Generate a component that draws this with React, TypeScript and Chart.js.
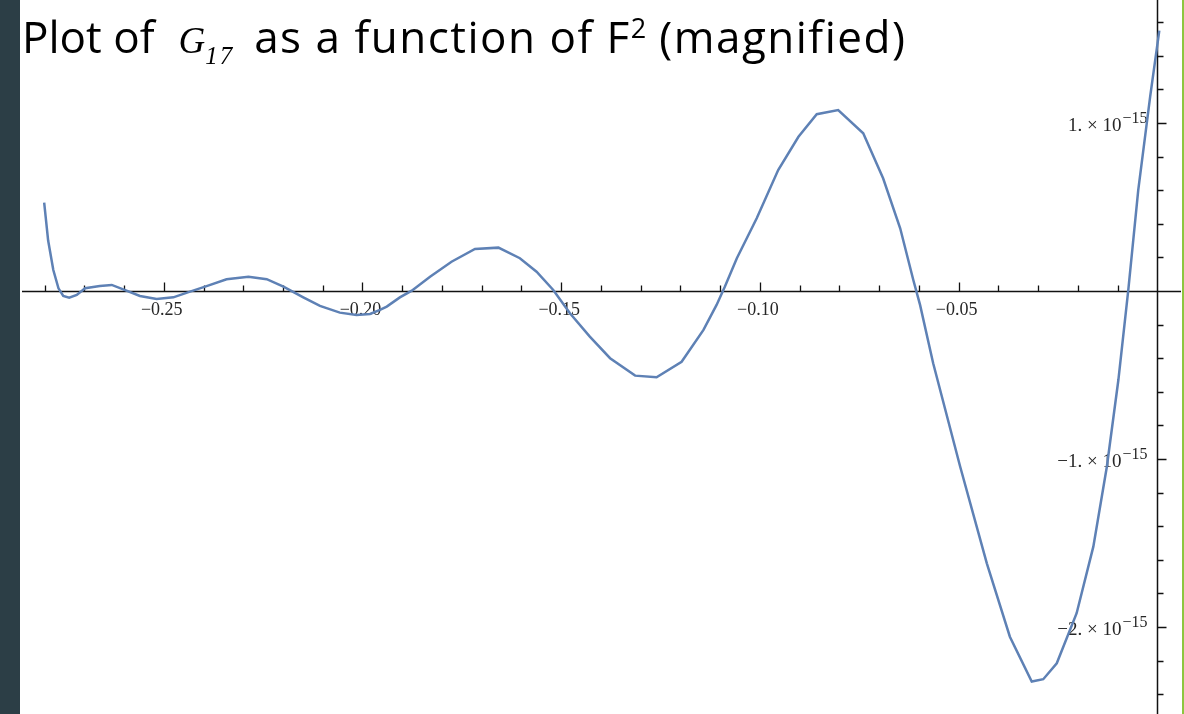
import React, { useEffect, useRef } from "react";
import { Chart, registerables } from "chart.js";

Chart.register(...registerables);

// Sampled curve: F² on the horizontal axis, G17 in units of 1e-15 on the vertical axis
const fSquared = [
  -0.2801, -0.2791, -0.2778, -0.2765, -0.2753, -0.2738, -0.2719, -0.2698, -0.2661, -0.2631,
  -0.2602, -0.256, -0.2518, -0.2476, -0.2434, -0.2396, -0.2342, -0.2287, -0.2241, -0.2199,
  -0.2149, -0.2107, -0.2057, -0.2015, -0.1981, -0.1956, -0.1939, -0.1906, -0.1876, -0.183,
  -0.1776, -0.1717, -0.1658, -0.1604, -0.1562, -0.152, -0.1478, -0.1428, -0.1377, -0.1314,
  -0.126, -0.1197, -0.1142, -0.1109, -0.1088, -0.1058, -0.1008, -0.0954, -0.0903, -0.0857,
  -0.0803, -0.074, -0.069, -0.0647, -0.0614, -0.0597, -0.0564, -0.0496, -0.0429, -0.0371,
  -0.0316, -0.0287, -0.0253, -0.0203, -0.0161, -0.0127, -0.0098, -0.0073, -0.0048, -0.0018,
  0.0005,
];

const g17 = [
  0.526, 0.3, 0.125, 0.016, -0.03, -0.04, -0.024, 0.016, 0.03, 0.036,
  0.01, -0.03, -0.048, -0.038, -0.004, 0.026, 0.07, 0.085, 0.07, 0.026,
  -0.038, -0.089, -0.129, -0.143, -0.137, -0.113, -0.093, -0.038, 0.002, 0.085,
  0.174, 0.25, 0.258, 0.195, 0.115, 0.006, -0.133, -0.272, -0.4, -0.504,
  -0.514, -0.421, -0.232, -0.083, 0.026, 0.195, 0.433, 0.72, 0.918, 1.052,
  1.077, 0.939, 0.671, 0.373, 0.065, -0.083, -0.43, -1.046, -1.621, -2.058,
  -2.325, -2.311, -2.216, -1.918, -1.522, -1.046, -0.53, 0.006, 0.6, 1.157,
  1.55,
];

// Axis ticks
const xMajorTicks = [-0.25, -0.2, -0.15, -0.1, -0.05];
const xMajorLabels = ["−0.25", "−0.20", "−0.15", "−0.10", "−0.05"];
const xMinorTicks = [
  -0.28, -0.27, -0.26, -0.24, -0.23, -0.22, -0.21, -0.19, -0.18, -0.17, -0.16,
  -0.14, -0.13, -0.12, -0.11, -0.09, -0.08, -0.07, -0.06, -0.04, -0.03, -0.02, -0.01,
];
const yMajorTicks = [1, -1, -2];
const yMantissaLabels = ["1. × 10", "−1. × 10", "−2. × 10"];
const yExponentLabel = "−15";
const yMinorTicks = [
  1.6, 1.4, 1.2, 0.8, 0.6, 0.4, 0.2, -0.2, -0.4, -0.6, -0.8,
  -1.2, -1.4, -1.6, -1.8, -2.2, -2.4,
];

const X_MIN = -0.28568;
const X_MAX = 0.00596;
const Y_MIN = -2.518;
const Y_MAX = 1.732;

const AXIS_COLOR = "#111";
const LABEL_COLOR = "#262626";
const CURVE_COLOR = "#5e81b5";

// Axes that cross at the origin, Mathematica style
const originAxes = {
  id: "originAxes",
  beforeDatasetsDraw(chart: any) {
    const { ctx, chartArea, scales } = chart;
    const xs = scales.x;
    const ys = scales.y;
    const x0 = Math.round(xs.getPixelForValue(0)) + 0.5;
    const y0 = Math.round(ys.getPixelForValue(0)) + 0.5;
    ctx.save();
    ctx.strokeStyle = AXIS_COLOR;
    ctx.lineWidth = 1.5;
    ctx.beginPath();
    ctx.moveTo(chartArea.left, y0);
    ctx.lineTo(chartArea.right, y0);
    ctx.moveTo(x0, chartArea.top);
    ctx.lineTo(x0, chartArea.bottom);
    ctx.stroke();

    ctx.lineWidth = 1.3;
    ctx.beginPath();
    for (const v of xMajorTicks) {
      const px = Math.round(xs.getPixelForValue(v)) + 0.5;
      ctx.moveTo(px, y0);
      ctx.lineTo(px, y0 - 9);
    }
    for (const v of xMinorTicks) {
      const px = Math.round(xs.getPixelForValue(v)) + 0.5;
      ctx.moveTo(px, y0);
      ctx.lineTo(px, y0 - 6);
    }
    for (const v of yMajorTicks) {
      const py = Math.round(ys.getPixelForValue(v)) + 0.5;
      ctx.moveTo(x0, py);
      ctx.lineTo(x0 + 9, py);
    }
    for (const v of yMinorTicks) {
      const py = Math.round(ys.getPixelForValue(v)) + 0.5;
      ctx.moveTo(x0, py);
      ctx.lineTo(x0 + 6, py);
    }
    ctx.stroke();

    ctx.fillStyle = LABEL_COLOR;
    ctx.font = "18px 'Liberation Serif', serif";
    ctx.textAlign = "center";
    ctx.textBaseline = "alphabetic";
    xMajorTicks.forEach((v, i) => {
      const px = xs.getPixelForValue(v);
      ctx.fillText(xMajorLabels[i], px - 2, y0 + 23);
    });

    yMajorTicks.forEach((v, i) => {
      const py = ys.getPixelForValue(v);
      const right = x0 - 10;
      ctx.font = "16px 'Liberation Serif', serif";
      ctx.textAlign = "right";
      ctx.fillText(yExponentLabel, right, py + 0.5);
      const expW = ctx.measureText(yExponentLabel).width;
      ctx.font = "19px 'Liberation Serif', serif";
      ctx.fillText(yMantissaLabels[i], right - expW - 1, py + 8.5);
    });
    ctx.restore();
  },
};

export default function App() {
  const canvasRef = useRef<HTMLCanvasElement | null>(null);

  useEffect(() => {
    if (!canvasRef.current) return;
    const chart = new Chart(canvasRef.current, {
      type: "line",
      data: {
        datasets: [
          {
            data: fSquared.map((x, i) => ({ x, y: g17[i] })),
            borderColor: CURVE_COLOR,
            borderWidth: 2.5,
            pointRadius: 0,
            tension: 0,
            fill: false,
          },
        ],
      },
      options: {
        responsive: false,
        animation: false,
        layout: { padding: { left: 22, right: 3, top: 0, bottom: 0 } },
        plugins: { legend: { display: false }, tooltip: { enabled: false }, title: { display: false } },
        scales: {
          x: { type: "linear", min: X_MIN, max: X_MAX, display: false },
          y: { type: "linear", min: Y_MIN, max: Y_MAX, display: false },
        },
      },
      plugins: [originAxes],
    });
    return () => chart.destroy();
  }, []);

  return (
    <div
      style={{
        position: "fixed",
        left: 0,
        top: 0,
        width: 1184,
        height: 714,
        background: "#ffffff",
        overflow: "hidden",
      }}
    >
      <canvas ref={canvasRef} width={1184} height={714} style={{ position: "absolute", left: 0, top: 0 }} />
      <div style={{ position: "absolute", left: 0, top: 0, width: 20, height: 714, background: "#2c3e46" }} />
      <div style={{ position: "absolute", left: 1182, top: 0, width: 2, height: 714, background: "#8dc63f" }} />
      <div
        style={{
          position: "absolute",
          left: 22,
          top: 6,
          fontFamily: "'Open Sans', sans-serif",
          fontSize: 44,
          lineHeight: "44px",
          color: "#000",
          whiteSpace: "nowrap",
        }}
      >
        <span>Plot of</span>
        <span
          style={{
            fontFamily: "'Liberation Serif', serif",
            fontStyle: "italic",
            fontSize: 37,
            marginLeft: 24,
          }}
        >
          G
        </span>
        <span
          style={{
            fontFamily: "'Liberation Serif', serif",
            fontStyle: "italic",
            fontSize: 25,
            letterSpacing: 2,
            verticalAlign: -11,
          }}
        >
          17
        </span>
        <span style={{ marginLeft: 20, letterSpacing: 1.5 }}>as a function of F</span>
        <span style={{ fontSize: 27, verticalAlign: 15 }}>2</span>
        <span style={{ letterSpacing: 1.5 }}> (magnified)</span>
      </div>
    </div>
  );
}
